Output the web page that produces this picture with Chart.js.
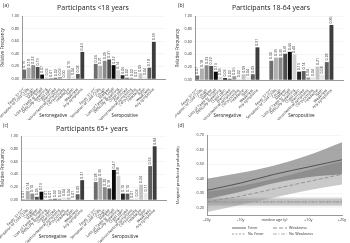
<!DOCTYPE html>
<html>
<head>
<meta charset="utf-8">
<script src="https://cdn.jsdelivr.net/npm/chart.js@4"></script>
<style>
body { margin: 0; width: 350px; height: 243px; background: #fff; position: relative; overflow: hidden; font-family: 'Open Sans', sans-serif; color: #222; }
canvas { position: absolute; }
.tag { position: absolute; font-size: 5px; }
.title { position: absolute; font-size: 7px; width: 120px; text-align: center; }
.group { position: absolute; font-size: 4.6px; width: 60px; margin-left: -30px; text-align: center; line-height: 5px; }
</style>
</head>
<body>
<canvas id="chartA" width="175" height="120" style="left:0;top:0"></canvas>
<canvas id="chartB" width="175" height="120" style="left:175px;top:0"></canvas>
<canvas id="chartC" width="175" height="123" style="left:0;top:120px"></canvas>
<canvas id="chartD" width="175" height="123" style="left:175px;top:120px"></canvas>
<div class="tag" style="left:3px;top:2px">(a)</div>
<div class="tag" style="left:178px;top:2px">(b)</div>
<div class="tag" style="left:3px;top:122px">(c)</div>
<div class="tag" style="left:178px;top:122px">(d)</div>
<div class="title" style="left:33px;top:3px">Participants &lt;18 years</div>
<div class="title" style="left:211px;top:3px">Participants 18-64 years</div>
<div class="title" style="left:32px;top:124px">Participants 65+ years</div>

<script>
// symptom categories (same order in every bar panel)
const symptoms = ['Fever 37.5°C', 'Sensation of Cold Chills', 'Cough', 'Malaise', 'Loss of Taste or Smell',
  'Difficulty Breathing', 'Chest pain', 'Diarrhoea', 'Gastrointestinal symptoms', 'Conjunctivitis',
  'Headache', 'Rash', 'Weakness', 'Any symptoms'];
const groups = ['Seronegative', 'Seropositive'];
const barColors = ['#6d6d6d', '#b0b0b0', '#8a8a8a', '#4e4e4e', '#0a0a0a', '#d2d2d2', '#252525',
  '#5e5e5e', '#9a9a9a', '#e3e3e3', '#c4c4c4', '#e8e8e8', '#606060', '#3d3d3d'];

// relative frequencies
const negA = [0.15, 0.18, 0.22, 0.19, 0.07, 0.03, 0.01, 0.02, 0.03, 0.00, 0.15, 0.04, 0.08, 0.43];
const posA = [0.24, 0.21, 0.29, 0.31, 0.22, 0.14, 0.06, 0.02, 0.02, 0.01, 0.09, 0.04, 0.18, 0.59];
const negB = [0.07, 0.18, 0.23, 0.22, 0.13, 0.05, 0.03, 0.02, 0.06, 0.02, 0.09, 0.04, 0.09, 0.51];
const posB = [0.30, 0.35, 0.35, 0.41, 0.44, 0.40, 0.13, 0.14, 0.04, 0.04, 0.21, 0.08, 0.28, 0.86];
const negC = [0.01, 0.14, 0.10, 0.05, 0.13, 0.01, 0.01, 0.02, 0.02, 0.04, 0.04, 0.01, 0.09, 0.31];
const posC = [0.28, 0.35, 0.20, 0.18, 0.47, 0.38, 0.10, 0.10, 0.01, 0.03, 0.24, 0.11, 0.53, 0.84];

// panel (d): marginal predicted probability by age
const agePoints = [-20, -10, 0, 10, 20];
const ageTicks = ['-20y', '-10y', 'median age (y)', '+10y', '+20y'];
const fever = [0.32, 0.37, 0.43, 0.48, 0.53];
const feverLo = [0.26, 0.31, 0.37, 0.41, 0.43];
const feverHi = [0.40, 0.44, 0.49, 0.56, 0.65];
const weakness = [0.24, 0.28, 0.33, 0.38, 0.43];
const weaknessLo = [0.17, 0.22, 0.27, 0.32, 0.36];
const weaknessHi = [0.31, 0.35, 0.40, 0.46, 0.52];
const noFever = [0.24, 0.24, 0.24, 0.24, 0.24];
const noFeverLo = [0.21, 0.21, 0.21, 0.21, 0.21];
const noFeverHi = [0.27, 0.27, 0.27, 0.27, 0.27];
const noWeak = [0.24, 0.24, 0.24, 0.24, 0.24];
const noWeakLo = [0.22, 0.22, 0.22, 0.22, 0.22];
const noWeakHi = [0.26, 0.26, 0.26, 0.26, 0.26];

Chart.defaults.font.family = "'Open Sans', sans-serif";
Chart.defaults.color = '#333';
Chart.defaults.animation = false;

// values written vertically over each bar
const valueLabels = {
  id: 'valueLabels',
  afterDatasetsDraw(chart) {
    const ctx = chart.ctx;
    const data = chart.data.datasets[0].data;
    ctx.save();
    ctx.font = "3.6px 'Open Sans'";
    ctx.fillStyle = '#333';
    ctx.textBaseline = 'middle';
    chart.getDatasetMeta(0).data.forEach((bar, i) => {
      if (data[i] == null) return;
      ctx.save();
      ctx.translate(bar.x, bar.y - 1.5);
      ctx.rotate(-Math.PI / 2);
      ctx.fillText(data[i].toFixed(2), 0, 0);
      ctx.restore();
    });
    ctx.restore();
  }
};

function makeBars(id, neg, pos, pad, xHeight, offX, groupTop) {
  const chart = new Chart(document.getElementById(id), {
    type: 'bar',
    data: {
      labels: [...symptoms, '', '', ...symptoms, '', ''],
      datasets: [{
        data: [...neg, null, null, ...pos, null, null],
        backgroundColor: [...barColors, '#fff', '#fff', ...barColors, '#fff', '#fff'],
        barPercentage: 0.85, categoryPercentage: 1
      }]
    },
    options: {
      responsive: false,
      maintainAspectRatio: false,
      layout: { autoPadding: false, padding: { top: pad.top, right: pad.right, left: 0, bottom: 0 } },
      plugins: { legend: { display: false }, tooltip: { enabled: false } },
      scales: {
        x: {
          grid: { display: false },
          border: { color: '#999' },
          ticks: { autoSkip: false, minRotation: 45, maxRotation: 45, font: { size: 3.8 }, padding: 0 },
          afterFit: (s) => { s.height = xHeight; }
        },
        y: {
          min: 0, max: 1,
          grid: { color: '#ececec', lineWidth: 0.5, tickLength: 2 },
          border: { color: '#999' },
          ticks: { stepSize: 0.1, font: { size: 3.8 }, padding: 1, callback: (v) => v.toFixed(2) },
          title: { display: true, text: 'Relative Frequency', font: { size: 4.4 }, padding: 0 },
          afterFit: (s) => { s.width = pad.left; }
        }
      }
    },
    plugins: [valueLabels]
  });
  // group captions centred under each block of bars
  const x = chart.scales.x;
  [[0, 13], [16, 29]].forEach((r, g) => {
    const div = document.createElement('div');
    div.className = 'group';
    div.textContent = groups[g];
    div.style.left = (offX + (x.getPixelForValue(r[0]) + x.getPixelForValue(r[1])) / 2) + 'px';
    div.style.top = groupTop + 'px';
    document.body.appendChild(div);
  });
  return chart;
}

makeBars('chartA', negA, posA, { top: 16, right: 10, left: 22 }, 41, 0, 113);
makeBars('chartB', negB, posB, { top: 16, right: 7, left: 20 }, 40, 175, 113);
makeBars('chartC', negC, posC, { top: 16, right: 9, left: 21 }, 43, 0, 234);

// legend for panel (d)
const lineLegend = {
  id: 'lineLegend',
  afterDraw(chart) {
    const ctx = chart.ctx;
    const items = [
      { text: 'Fever', x: 57, y: 108, color: '#444', dash: [] },
      { text: 'Weakness', x: 98, y: 108, color: '#777', dash: [4, 2] },
      { text: 'No Fever', x: 57, y: 114, color: '#888', dash: [2, 1.5] },
      { text: 'No Weakness', x: 98, y: 114, color: '#999', dash: [4, 1.5, 1, 1.5] }
    ];
    ctx.save();
    ctx.font = "3.8px 'Open Sans'";
    ctx.fillStyle = '#333';
    ctx.textBaseline = 'middle';
    items.forEach((it) => {
      ctx.strokeStyle = it.color;
      ctx.lineWidth = 0.8;
      ctx.setLineDash(it.dash);
      ctx.beginPath();
      ctx.moveTo(it.x, it.y);
      ctx.lineTo(it.x + 14, it.y);
      ctx.stroke();
      ctx.fillText(it.text, it.x + 16, it.y);
    });
    ctx.restore();
  }
};

const pts = (arr) => arr.map((v, i) => ({ x: agePoints[i], y: v }));
const band = (arr, fillTo, color) => ({
  data: pts(arr), borderWidth: 0, pointRadius: 0, fill: fillTo == null ? false : fillTo,
  backgroundColor: color, cubicInterpolationMode: 'monotone'
});
const line = (arr, color, dash, width) => ({
  data: pts(arr), borderColor: color, borderDash: dash, borderWidth: width, pointRadius: 0,
  fill: false, cubicInterpolationMode: 'monotone'
});

new Chart(document.getElementById('chartD'), {
  type: 'line',
  data: {
    datasets: [
      band(feverHi, 1, 'rgba(95,95,95,0.55)'),
      band(feverLo, null),
      band(weaknessHi, 3, 'rgba(150,150,150,0.5)'),
      band(weaknessLo, null),
      band(noFeverHi, 5, 'rgba(160,160,160,0.4)'),
      band(noFeverLo, null),
      band(noWeakHi, 7, 'rgba(150,150,150,0.35)'),
      band(noWeakLo, null),
      line(fever, '#444', [], 1),
      line(weakness, '#777', [4, 2], 0.8),
      line(noFever, '#888', [2, 1.5], 0.8),
      line(noWeak, '#999', [4, 1.5, 1, 1.5], 0.8)
    ]
  },
  options: {
    responsive: false,
    maintainAspectRatio: false,
    layout: { autoPadding: false, padding: { top: 15, right: 8, left: 0, bottom: 0 } },
    plugins: { legend: { display: false }, tooltip: { enabled: false } },
    scales: {
      x: {
        type: 'linear', min: -20, max: 20,
        grid: { display: false, tickLength: 2 },
        border: { color: '#999' },
        ticks: { stepSize: 10, font: { size: 3.8 }, padding: 1, maxRotation: 0,
          callback: (v) => ageTicks[agePoints.indexOf(v)] },
        afterFit: (s) => { s.height = 28; }
      },
      y: {
        min: 0.15, max: 0.70,
        grid: { color: '#ececec', lineWidth: 0.5, tickLength: 2 },
        border: { color: '#999' },
        afterBuildTicks: (s) => { s.ticks = [0.2, 0.3, 0.4, 0.5, 0.6, 0.7].map((v) => ({ value: v })); },
        ticks: { font: { size: 3.8 }, padding: 1, callback: (v) => v.toFixed(2) },
        title: { display: true, text: 'Marginal predicted probability', font: { size: 4.2 }, padding: 0 },
        afterFit: (s) => { s.width = 32; }
      }
    }
  },
  plugins: [lineLegend]
});
</script>
</body>
</html>
